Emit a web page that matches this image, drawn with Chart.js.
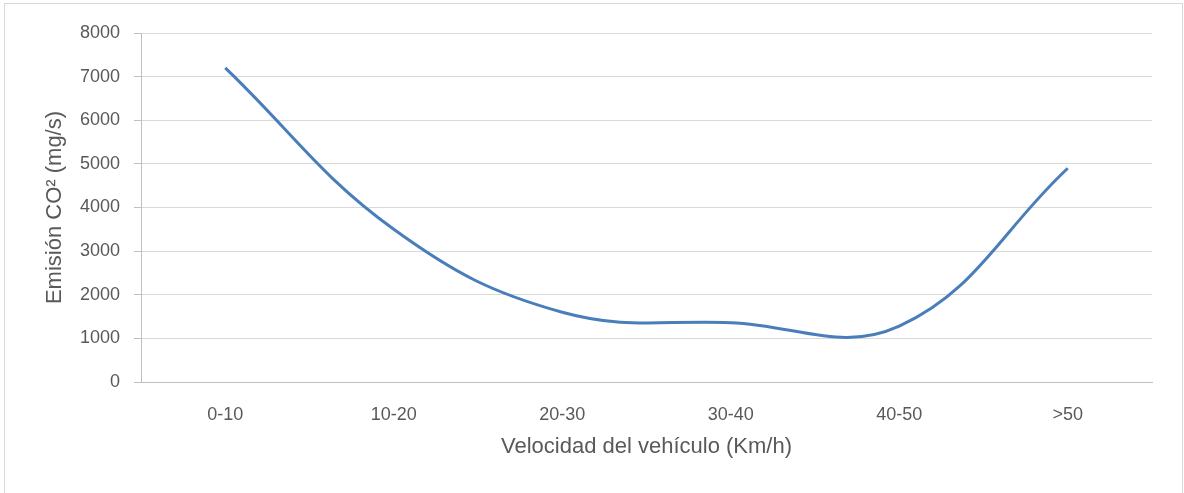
<!DOCTYPE html>
<html>
<head>
<meta charset="utf-8">
<script src="https://cdn.jsdelivr.net/npm/chart.js@4/dist/chart.umd.min.js"></script>
<style>
  body { margin: 0; background: #fff; }
  #frame {
    position: absolute; left: 4px; top: 3px;
    width: 1177px; height: 500px;
    border: 1px solid #d9d9d9;
  }
  #co2Chart { position: absolute; left: 0; top: 0; }
</style>
</head>
<body>
<div id="frame"></div>
<canvas id="co2Chart" width="1184" height="493"></canvas>
<script>
// velocidad (km/h) y emision de CO2 (mg/s)
const categories = ['0-10', '10-20', '20-30', '30-40', '40-50', '>50'];
const emissions = [7200, 3500, 1600, 1360, 1280, 4900];
const yMin = 0;
const yMax = 8000;
const yStep = 1000;

const textColor = '#595959';
const fontName = '"Liberation Sans", Arial, sans-serif';

document.addEventListener('DOMContentLoaded', () => {
  const ctx = document.getElementById('co2Chart').getContext('2d');
  new Chart(ctx, {
    type: 'line',
    data: {
      labels: categories,
      datasets: [{
        data: emissions,
        borderColor: '#4a7ebb',
        borderWidth: 3,
        pointRadius: 0,
        tension: 0.4,
        fill: false
      }]
    },
    options: {
      responsive: false,
      animation: false,
      devicePixelRatio: 1,
      layout: { padding: { left: 0, top: 33, right: 32, bottom: 0 } },
      plugins: {
        legend: { display: false },
        tooltip: { enabled: false }
      },
      scales: {
        x: {
          offset: true,
          grid: { display: false, drawTicks: false },
          border: { color: '#bfbfbf', width: 1 },
          ticks: { color: textColor, font: { family: fontName, size: 18 }, padding: 22 },
          title: {
            display: true,
            text: 'Velocidad del vehículo (Km/h)',
            color: textColor,
            font: { family: fontName, size: 22 },
            padding: { top: 0, bottom: 33 }
          },
          afterFit: (scale) => { scale.height = 111; }
        },
        y: {
          min: yMin,
          max: yMax,
          grid: { color: '#d9d9d9', tickColor: '#bfbfbf', tickLength: 7, lineWidth: 1 },
          border: { color: '#bfbfbf', width: 1 },
          ticks: {
            stepSize: yStep,
            color: textColor,
            font: { family: fontName, size: 18 },
            padding: 14,
            callback: (value) => String(value)
          },
          title: {
            display: true,
            text: 'Emisión CO² (mg/s)',
            color: textColor,
            font: { family: fontName, size: 22 },
            padding: { top: 42, bottom: 0 }
          },
          afterFit: (scale) => { scale.width = 141; }
        }
      }
    }
  });
});
</script>
</body>
</html>
